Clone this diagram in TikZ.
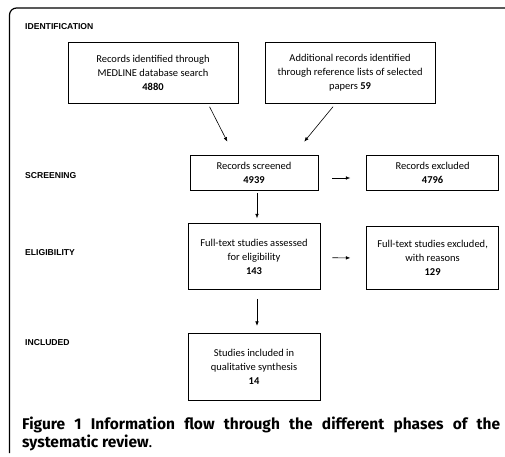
\documentclass[tikz,border=0pt]{standalone}
\usepackage{fontspec}
\setmainfont{Carlito}
\newfontfamily\phasefont{Liberation Sans}
\newfontfamily\capfont{Fira Sans}
\usetikzlibrary{positioning, arrows.meta}

\tikzset{
  box/.style={draw, line width=0.6pt, align=center, inner sep=2pt,
              font=\fontsize{10.5}{14}\selectfont},
  phase/.style={anchor=west, inner sep=0pt,
                font=\phasefont\bfseries\fontsize{8.6}{10}\selectfont},
  flow/.style={-{Latex[length=4.5pt,width=3.6pt]}, line width=0.6pt},
  caption/.style={anchor=west, inner sep=0pt, font=\capfont\fontsize{15.5}{18}\selectfont},
}

\begin{document}
\begin{tikzpicture}[x=1pt,y=1pt]
  \useasboundingbox (0,0) rectangle (505,-456);

  % frame
  \draw[line width=1.2pt, rounded corners=7pt] (9.5,-453) -- (9.5,-8) -- (506,-8);

  % phases
  \node[phase] (pid) at (25,-27) {IDENTIFICATION};
  \node[phase] (pscr) at (25,-176) {SCREENING};
  \node[phase] (pelig) at (25,-253) {ELIGIBILITY};
  \node[phase] (pinc) at (25,-343) {INCLUDED};

  % boxes
  \node[box, minimum width=128pt, minimum height=35pt] (scr) at (254,-172.5)
        {Records screened\\\textbf{4939}};
  \node[box, minimum width=132pt, minimum height=35pt, right=48pt of scr] (exc)
        {Records excluded\\\textbf{4796}};
  \node[box, minimum width=170pt, minimum height=61pt, above=51pt of scr, xshift=-101pt] (med)
        {Records identified through\\MEDLINE database search\\\textbf{4880}};
  \node[box, minimum width=170pt, minimum height=61pt, above=51pt of scr, xshift=96pt] (ref)
        {Additional records identified\\through reference lists of selected\\papers \textbf{59}};
  \node[box, minimum width=132pt, minimum height=66pt, below=33pt of scr] (elig)
        {Full-text studies assessed\\for eligibility\\\textbf{143}};
  \node[box, minimum width=132pt, minimum height=63pt, right=46pt of elig, yshift=-1.5pt] (excft)
        {Full-text studies excluded,\\with reasons\\\textbf{129}};
  \node[box, minimum width=132pt, minimum height=67pt, below=43pt of elig] (inc)
        {Studies included in\\qualitative synthesis\\\textbf{14}};

  % arrows
  \coordinate (m1) at ([xshift=55pt]med.south);
  \coordinate (m2) at ([xshift=-20pt]scr.north);
  \coordinate (r1) at ([xshift=-14.5pt]ref.south);
  \coordinate (r2) at ([xshift=39.5pt]scr.north);
  \draw[flow, shorten <=3.4pt, shorten >=14.6pt] (m1) -- (m2);
  \draw[flow, shorten <=3.9pt, shorten >=16.9pt] (r1) -- (r2);
  \draw[flow, shorten <=14pt, shorten >=16pt] ([yshift=-5.5pt]scr.east) -- ([yshift=-5.5pt]exc.west);
  \draw[flow, shorten <=3pt, shorten >=5pt] ([xshift=3pt]scr.south) -- ([xshift=3pt]elig.north);
  \draw[flow, shorten <=12pt, shorten >=16pt] ([yshift=-1pt]elig.east) -- (excft.west);
  \draw[flow, shorten <=9pt, shorten >=7pt] ([xshift=3pt]elig.south) -- ([xshift=3pt]inc.north);

  % caption
  \node[caption] (cap1) at (22,-425)
        {\makebox[478pt][s]{\bfseries Figure 1 Information flow through the different phases of the}};
  \node[caption] (cap2) at (22,-443)
        {\textbf{systematic review}.};
\end{tikzpicture}
\end{document}
